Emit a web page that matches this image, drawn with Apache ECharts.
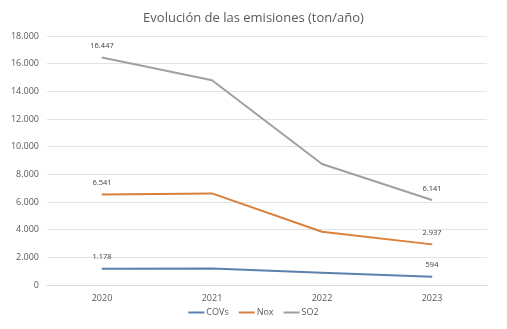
<!DOCTYPE html>
<html>
<head>
<meta charset="utf-8">
<script src="https://cdn.jsdelivr.net/npm/echarts@6/dist/echarts.min.js"></script>
<style>
  html, body { margin: 0; padding: 0; background: #ffffff; }
  #chart { width: 507px; height: 329px; }
</style>
</head>
<body>
<div id="chart"></div>
<script>
// Annual emissions (ton/year) per pollutant
const years = ['2020', '2021', '2022', '2023'];
const covs = [1178, 1190, 890, 594];
const nox = [6541, 6620, 3850, 2937];
const so2 = [16447, 14800, 8750, 6141];
const yTicks = [0, 2000, 4000, 6000, 8000, 10000, 12000, 14000, 16000, 18000];

// Spanish-style thousands separator (dot)
function fmt(v) {
  return String(Math.round(v)).replace(/\B(?=(\d{3})+(?!\d))/g, '.');
}

const FONT = '"Open Sans", "Noto Sans", sans-serif';

function makeSeries(name, data, color) {
  return {
    name: name,
    type: 'line',
    data: data,
    symbol: 'circle',
    symbolSize: 1,
    showSymbol: true,
    lineStyle: { color: color, width: 2 },
    itemStyle: { color: color },
    emphasis: { disabled: true },
    label: {
      show: true,
      position: 'top',
      distance: 7,
      fontFamily: FONT,
      fontSize: 7.5,
      color: '#404040',
      formatter: function (p) {
        // value labels only at the first and last year
        return (p.dataIndex === 0 || p.dataIndex === data.length - 1) ? fmt(p.value) : '';
      }
    }
  };
}

const chart = echarts.init(document.getElementById('chart'), null, { renderer: 'canvas' });
chart.setOption({
  animation: false,
  backgroundColor: '#ffffff',
  title: {
    text: 'Evolución de las emisiones (ton/año)',
    left: 'center',
    top: 7,
    textStyle: { fontFamily: FONT, fontSize: 13, fontWeight: 'normal', color: '#595959' }
  },
  legend: {
    bottom: 7,
    left: 'center',
    itemWidth: 16,
    itemHeight: 2,
    itemGap: 10,
    icon: 'rect',
    textStyle: { fontFamily: FONT, fontSize: 9, color: '#595959', padding: [0, 0, 0, -3] },
    data: ['COVs', 'Nox', 'SO2']
  },
  grid: { left: 47, right: 20, top: 36, bottom: 44 },
  xAxis: {
    type: 'category',
    data: years,
    boundaryGap: true,
    axisLine: { show: true, lineStyle: { color: '#d9d9d9' } },
    axisTick: { show: false },
    axisLabel: { fontFamily: FONT, fontSize: 9, color: '#595959', margin: 9 }
  },
  yAxis: {
    type: 'value',
    min: yTicks[0],
    max: yTicks[yTicks.length - 1],
    interval: 2000,
    axisLine: { show: false },
    axisTick: { show: false },
    splitLine: { lineStyle: { color: '#e3e3e3', width: 1 } },
    axisLabel: {
      fontFamily: FONT, fontSize: 9, color: '#595959', margin: 8,
      formatter: function (v) { return fmt(v); }
    }
  },
  series: [
    makeSeries('COVs', covs, '#5b82ad'),
    makeSeries('Nox', nox, '#d9803d'),
    makeSeries('SO2', so2, '#a0a0a0')
  ]
});
</script>
</body>
</html>
